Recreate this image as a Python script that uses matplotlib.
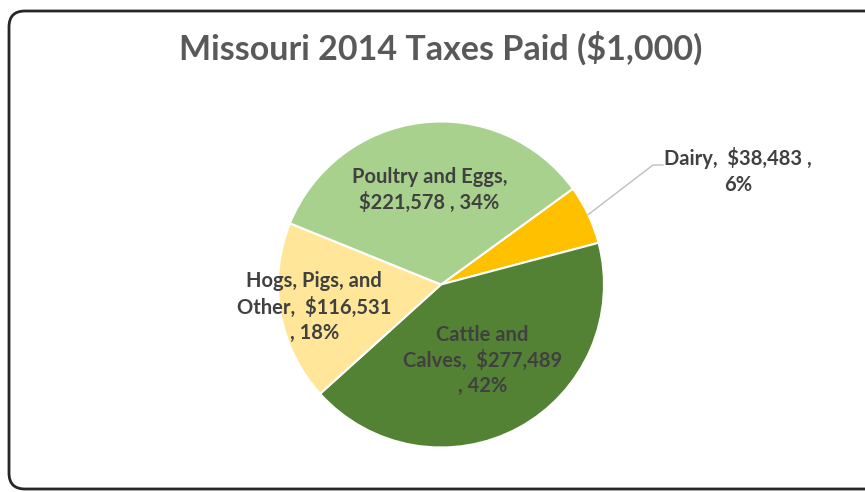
import numpy as np
import matplotlib
matplotlib.use('Agg')
from matplotlib import pyplot as plt
from matplotlib.patches import FancyBboxPatch

# data
categories  = ['Dairy', 'Cattle and Calves', 'Hogs, Pigs, and Other', 'Poultry and Eggs']
values      = [38483, 277489, 116531, 221578]
colors      = ['#FFC000', '#548235', '#FFE699', '#A9D18E']

W, H    = 865, 492
fig     = plt.figure(figsize=(W/100, H/100), dpi=100)
ax      = fig.add_axes([0, 0, 1, 1])

# rounded frame
frame = FancyBboxPatch((9, 3), W + 20, 478, boxstyle='round,pad=0,rounding_size=16',
                       fc='white', ec='#262626', lw=2, zorder=0)
ax.add_patch(frame)

ax.text(441, H - 48, 'Missouri 2014 Taxes Paid ($1,000)', ha='center', va='center',
        fontsize=24.5, fontfamily='Lato', fontweight='bold', color='#595959')

cx, cy, r = 441, H - 284.5, 163
wedges, _ = ax.pie(values, colors=colors, startangle=36, counterclock=False,
                   center=(cx, cy), radius=r, frame=True,
                   wedgeprops=dict(edgecolor='white', linewidth=1.5))
ax.set_xlim(0, W)
ax.set_ylim(0, H)
ax.set_aspect('equal')
ax.axis('off')

total   = sum(values)
pcts    = [round(v/total*100) for v in values]
txt     = dict(fontsize=14.5, fontfamily='Lato', fontweight='bold', color='#404040',
               ha='center', va='center', linespacing=1.32)

labels = ['Dairy,  ${:,} ,\n{}%'.format(values[0], pcts[0]),
          'Cattle and\nCalves,  ${:,}\n, {}%'.format(values[1], pcts[1]),
          'Hogs, Pigs, and\nOther,  ${:,}\n, {}%'.format(values[2], pcts[2]),
          'Poultry and Eggs,\n${:,} , {}%'.format(values[3], pcts[3])]
fracs  = [None, 0.53, 0.79, 0.585]

for ii, w in enumerate(wedges):
    mid = np.deg2rad((w.theta1 + w.theta2)/2)
    if fracs[ii] is None:
        x0, y0 = cx + r*np.cos(mid), cy + r*np.sin(mid)
        ax.plot([x0, 653, 663], [y0, H - 165, H - 165], color='#bfbfbf', lw=1)
        ax.text(738, H - 171, labels[ii], **txt)
    else:
        ax.text(cx + fracs[ii]*r*np.cos(mid), cy + fracs[ii]*r*np.sin(mid), labels[ii], **txt)

fig.savefig('out.png', dpi=100)
